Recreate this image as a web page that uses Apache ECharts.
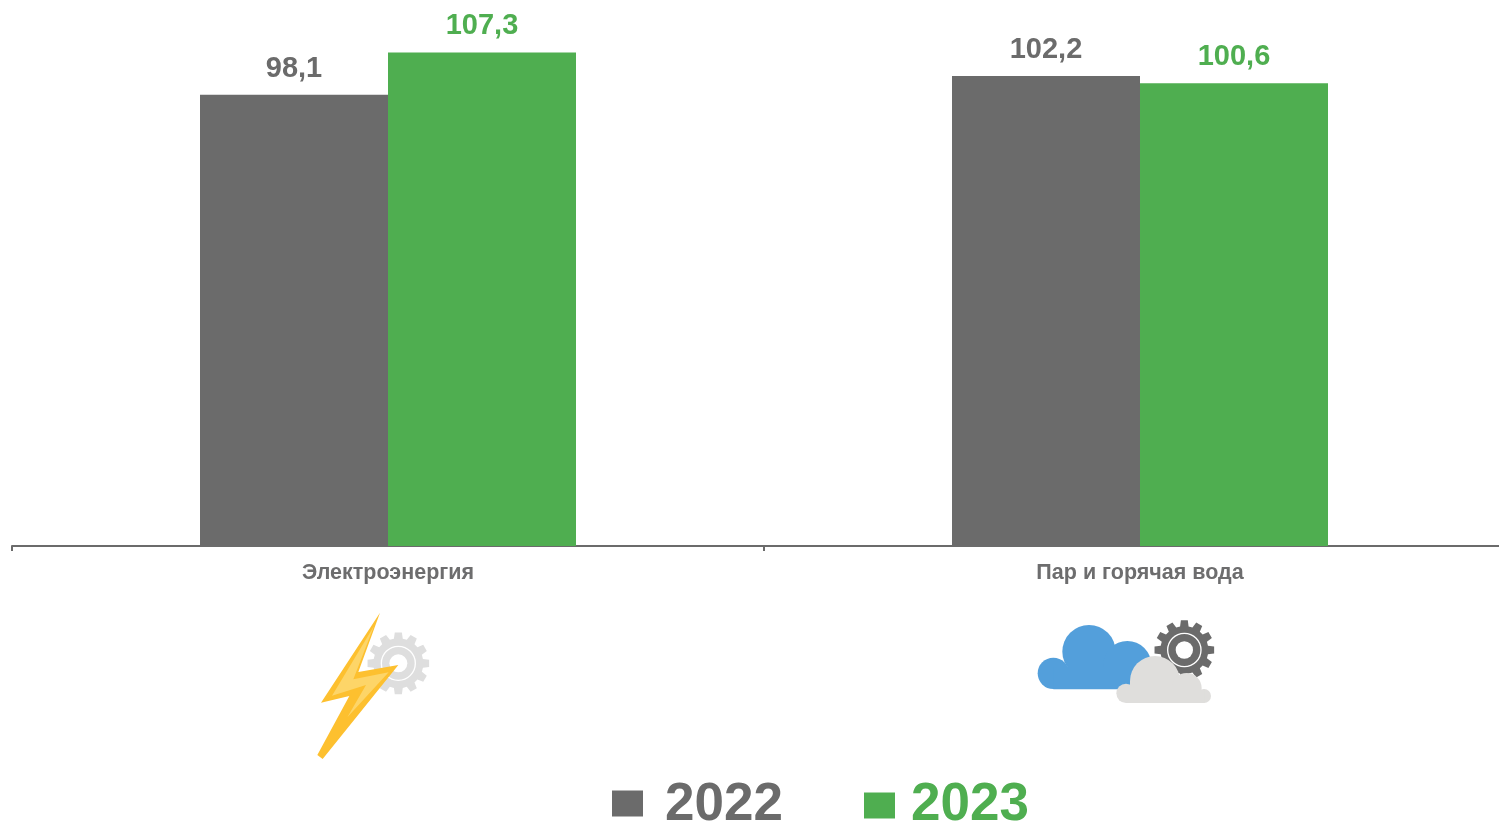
<!DOCTYPE html>
<html>
<head>
<meta charset="utf-8">
<style>html,body{margin:0;padding:0;background:#fff;overflow:hidden;width:1499px;height:821px}#c{width:1520px;height:821px}</style>
<script src="https://cdn.jsdelivr.net/npm/echarts@6/dist/echarts.min.js"></script>
</head>
<body>
<div id="c"></div>
<script>
const categories = ['Электроэнергия', 'Пар и горячая вода'];
const values2022 = [98.1, 102.2];
const values2023 = [107.3, 100.6];
const GREY = '#6b6b6b', GREEN = '#4fae50', FONT = '"Liberation Sans", Arial, sans-serif';

function gear(cx, cy, ro, ri, n) {
  const out = [];
  for (let i = 0; i < n; i++) {
    const s = 2 * Math.PI / n, a = i * s;
    [[ri, -0.34], [ro, -0.22], [ro, 0.22], [ri, 0.34]].forEach(p => {
      const t = a + p[1] * s;
      out.push([cx + p[0] * Math.cos(t), cy + p[0] * Math.sin(t)]);
    });
  }
  return out;
}
const poly = (points, fill, z) => ({type: 'polygon', z: z, shape: {points}, style: {fill}});
const circ = (cx, cy, r, fill, z) => ({type: 'circle', z: z, shape: {cx, cy, r}, style: {fill}});
const ring = (cx, cy, r, lw, stroke, z) => ({type: 'circle', z: z, shape: {cx, cy, r}, style: {fill: 'transparent', stroke, lineWidth: lw}});
const box = (x, y, width, height, fill, z) => ({type: 'rect', z: z, shape: {x, y, width, height}, style: {fill}});

const boltIcon = {
  type: 'group', x: 290, y: 600, scaleX: 1 / 3, scaleY: 1 / 3, children: [
    poly(gear(325, 190, 93, 75, 12), '#dedede', 10),
    ring(325, 190, 51, 4, '#ffffff', 11),
    circ(325, 190, 27, '#ffffff', 11),
    poly([[270,38],[93,308],[178,288],[82,465],[98,477],[325,195],[205,216]], '#fdc02f', 12),
    poly([[252,78],[126,287],[228,255],[172,352],[296,217],[190,238]], '#fdd568', 13)
  ]
};
const cloudIcon = {
  type: 'group', x: 1020, y: 610, scaleX: 1 / 3, scaleY: 1 / 3, children: [
    poly(gear(493, 120, 90, 72, 12), GREY, 10),
    ring(493, 120, 50, 4, '#ffffff', 11),
    circ(493, 120, 26, '#ffffff', 11),
    circ(207, 125, 80, '#539fdb', 12),
    circ(100, 190, 47, '#539fdb', 12),
    circ(322, 165, 72, '#539fdb', 12),
    box(100, 170, 290, 68, '#539fdb', 12),
    {type: 'sector', z: 13, shape: {cx: 405, cy: 213, r: 75, startAngle: Math.PI, endAngle: 2 * Math.PI}, style: {fill: '#dfdedc'}},
    box(330, 213, 150, 66, '#dfdedc', 13),
    circ(318, 250, 29, '#dfdedc', 13),
    circ(500, 234, 45, '#dfdedc', 13),
    circ(552, 258, 21, '#dfdedc', 13),
    box(318, 240, 235, 39, '#dfdedc', 13)
  ]
};

const legendBase = (name, left, top, color, pad, icon, itemHeight) => ({
  left, top, padding: 0, itemWidth: 31, itemHeight, icon, selectedMode: false,
  data: [name],
  textStyle: {color, fontFamily: FONT, fontWeight: 'bold', fontSize: 53, padding: [0, 0, 0, pad]}
});

const barLabel = color => ({
  show: true, position: 'top', distance: 11.5, color, fontFamily: FONT, fontWeight: 'bold', fontSize: 29,
  formatter: p => String(p.value).replace('.', ',')
});

const chart = echarts.init(document.getElementById('c'), null, {renderer: 'canvas'});
chart.setOption({
  animation: false,
  backgroundColor: '#ffffff',
  grid: {left: 12, top: 40, width: 1504, height: 506, containLabel: false},
  legend: [
    legendBase('2022', 612, 779, GREY, 17, 'path://M0 0H31V26H0ZM0 30L0 30', 30),
    legendBase('2023', 864, 779, GREEN, 11, 'rect', 26)
  ],
  xAxis: {
    type: 'category', data: categories,
    axisLine: {lineStyle: {color: GREY, width: 2}},
    axisTick: {show: true, length: 5, lineStyle: {color: GREY, width: 2}},
    axisLabel: {color: '#6d6d6e', fontFamily: FONT, fontWeight: 'bold', fontSize: 21.5, margin: 16, interval: 0}
  },
  yAxis: {type: 'value', min: 0, max: 110, show: false, splitLine: {show: false}},
  series: [
    {name: '2022', type: 'bar', data: values2022, barWidth: '25%', barGap: 0, itemStyle: {color: GREY}, label: barLabel(GREY)},
    {name: '2023', type: 'bar', data: values2023, barWidth: '25%', barGap: 0, itemStyle: {color: GREEN}, label: barLabel(GREEN)}
  ],
  graphic: [boltIcon, cloudIcon]
});
</script>
</body>
</html>
